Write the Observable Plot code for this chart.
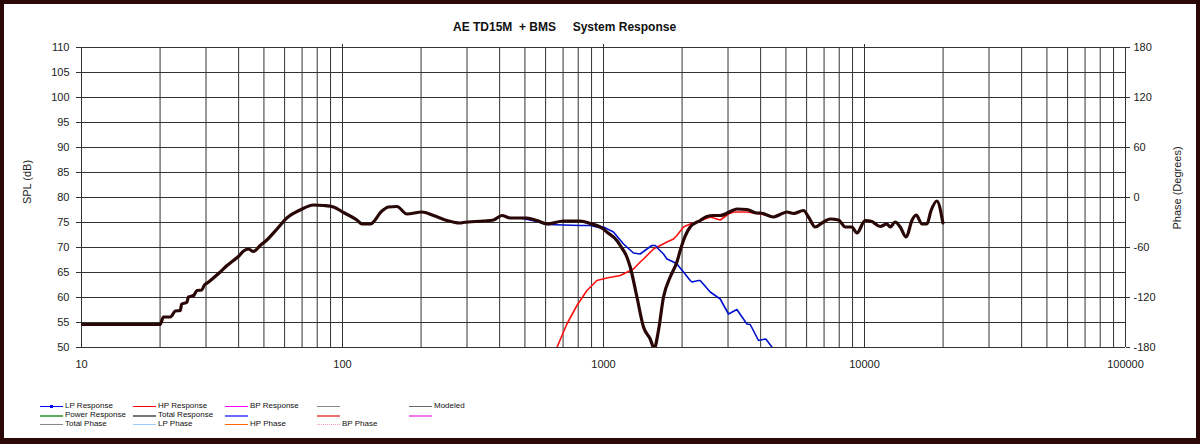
<!DOCTYPE html>
<html><head><meta charset="utf-8">
<script src="https://cdn.jsdelivr.net/npm/d3@7"></script>
<script src="https://cdn.jsdelivr.net/npm/@observablehq/plot@0.6"></script>
<style>
body{margin:0;background:#fff;font-family:"Liberation Sans",Arial,sans-serif;}
#wrap{position:relative;width:1200px;height:444px;overflow:hidden;background:#fff;}
#frame{position:absolute;left:0;top:0;width:1200px;height:444px;box-sizing:border-box;border:4px solid #2a0808;border-bottom-width:6px;pointer-events:none;}
#chart{position:absolute;left:0;top:0;}
.title{position:absolute;top:20px;left:453px;font-weight:bold;font-size:12px;white-space:pre;color:#111;}
.ylab{position:absolute;font-size:11px;color:#222;white-space:nowrap;transform:translate(-50%,-50%) rotate(-90deg);}
.leg{position:absolute;font-size:8px;color:#111;white-space:nowrap;line-height:8px;}
.sw{position:absolute;height:0;}
</style></head><body>
<div id="wrap">
  <div id="chart"></div>
  <div class="title">AE TD15M  + BMS     System Response</div>
  <div class="ylab" style="left:27px;top:182px;">SPL (dB)</div>
  <div class="ylab" style="left:1177px;top:188px;">Phase (Degrees)</div>
  <div id="legend"></div>
  <div id="frame"></div>
</div>
<script>
// ---- data ----
const totalFreq = [10,20,20.6,21.9,22.9,23.9,24.2,25.3,25.7,26.9,27.7,28.9,29.5,30.7,32.0,34.0,36.1,38.2,39.9,41.8,43.6,45.6,48.4,51.3,56.1,61.2,68.8,77.4,84.6,92.4,100.9,113.5,118.7,127.7,141.6,150.1,161.6,176.5,201.5,223.2,247.5,282.5,290,347,379,408,439,479.6,508.8,555.5,607,703,745,814,889,1000,1030,1125,1159,1229,1266,1343,1423,1510,1564,1624,1698,1801,1911,1968,2025,2149,2347,2490,2640,2800,3149,3244,3543,3870,3985,4481,4549,4895,5041,5346,5839,6101,6474,6868,7389,7952,8436,8949,9352,10063,10675,11486,12184,12545,13114,13702,14450,15192,15781,16596,17346,17968,18941,19971];
const totalSpl  = [54.6,54.6,56.1,56.1,57.3,57.4,58.7,59.0,60.1,60.4,61.4,61.5,62.4,63.1,63.9,65.1,66.4,67.4,68.2,69.3,69.7,69.2,70.4,71.5,73.7,75.9,77.5,78.5,78.4,78.1,77.0,75.5,74.7,74.7,77.3,78.1,78.2,76.7,77.1,76.4,75.5,74.9,75.0,75.3,75.5,76.4,75.9,75.9,75.9,75.4,74.7,75.3,75.3,75.3,74.8,73.7,73.1,71.4,70.4,68.1,66.1,60.1,54.1,51.7,49.8,53.4,60.1,64.1,67.1,69.4,71.4,74.1,75.4,76.2,76.4,76.4,77.5,77.7,77.6,76.9,76.9,76.1,76.2,76.9,77.1,76.8,77.4,76.1,74.1,74.9,75.7,75.5,74.1,74.1,72.9,75.4,75.2,74.2,74.7,74.1,75.1,74.1,72.1,75.4,76.5,74.7,74.7,77.3,79.3,74.9];

const lpFreq = [440,479.6,555.5,607,703,814,889,960,1000,1092,1193,1303,1382,1423,1532,1580,1624,1698,1750,1854,1911,2025,2149,2182,2312,2347,2564,2800,3013,3244,3543,3649,3926,4165,4202,4418,4520];
const lpSpl  = [75.9,75.9,75.2,74.6,74.5,74.4,74.4,74.0,74.1,73.1,70.7,68.9,68.7,69.2,70.4,70.4,69.7,68.7,67.7,67.1,66.7,65.1,63.4,63.1,63.4,63.4,61.1,59.7,56.7,57.6,54.7,54.6,51.4,51.7,51.6,50.1,49.5];

const hpFreq = [650,663,724,791,864,943,1030,1159,1303,1382,1423,1554,1649,1750,1854,1911,2025,2149,2280,2564,2800,3013,3149,3543,3985,4200];
const hpSpl  = [49.5,50.0,54.7,58.4,61.4,63.4,63.9,64.4,65.7,67.1,67.7,69.7,70.4,71.1,71.7,72.4,74.1,74.7,75.1,76.1,75.5,76.7,77.1,77.1,76.7,76.5];

const decadeTicks = [10,100,1000,10000,100000];
const splTicks = [50,55,60,65,70,75,80,85,90,95,100,105,110];
const phaseTicks = [-180,-120,-60,0,60,120,180];

const legendLabels = ["LP Response","HP Response","BP Response","","Modeled",
                      "Power Response","Total Response","","","",
                      "Total Phase","LP Phase","HP Phase","BP Phase"];
const legendColors = ["#0000ff","#ff0000","#ff00ff","#888888","#666666",
                      "#60b060","#777777","#6a6aff","#ee7070","#ee77ee",
                      "#888888","#99ccff","#ff6600","#ff99cc"];
const legendWidths = [1.5,1.5,1.5,1,1, 2,2,2,2,2, 1,1,1.5,1];
const legendStyles = ["solid","solid","solid","solid","solid","solid","solid","solid","solid","solid","solid","solid","solid","dotted"];

// ---- build tables ----
const total = totalFreq.map((f,i)=>({f, v: totalSpl[i]}));
const lp = lpFreq.map((f,i)=>({f, v: lpSpl[i]}));
const hp = hpFreq.map((f,i)=>({f, v: hpSpl[i]}));
const gridFreqs = decadeTicks.slice(0,-1).flatMap(d => d3.range(1,10).map(k => k*d)).concat([100000]);
const phasePos = phaseTicks.map(p => 80 + p/6);

const chart = Plot.plot({
  width: 1200, height: 380,
  marginLeft: 81, marginRight: 75, marginTop: 47, marginBottom: 33,
  x: {type: "log", domain: [10, 100000], label: null},
  y: {domain: [50, 110], label: null},
  style: {fontFamily: "'Liberation Sans', Arial, sans-serif", fontSize: "11px", color: "#222", background: "transparent", overflow: "visible"},
  marks: [
    Plot.gridX(gridFreqs, {stroke: "#333", strokeOpacity: 1}),
    Plot.gridY(splTicks, {stroke: "#333", strokeOpacity: 1}),
    Plot.axisX(decadeTicks, {anchor: "bottom", label: null, tickSize: 0, tickPadding: 13, tickFormat: d => d3.format("d")(d)}),
    Plot.axisX(decadeTicks.slice(1,-1), {anchor: "top", label: null, tickSize: 4, tickFormat: () => "", stroke: "#333"}),
    Plot.axisY(splTicks, {anchor: "left", label: null, tickSize: 5, tickPadding: 7, stroke: "#333"}),
    Plot.axisY(phasePos, {anchor: "right", label: null, tickSize: 4, tickPadding: 4, stroke: "#333", tickFormat: (d, i) => String(phaseTicks[i])}),
    Plot.line(hp, {x: "f", y: "v", stroke: "#ff1010", strokeWidth: 1.6, clip: true}),
    Plot.line(lp, {x: "f", y: "v", stroke: "#0010cc", strokeWidth: 1.6, clip: true}),
    Plot.line(total, {x: "f", y: "v", stroke: "#2a0707", strokeWidth: 3.2, clip: true, strokeLinejoin: "round", curve: "monotone-x"})
  ]
});
document.getElementById("chart").appendChild(chart);

// ---- legend ----
const leg = document.getElementById("legend");
const colX = [40, 133, 225, 317, 409];
const rowY = [406.5, 415.5, 424.5];
legendLabels.forEach((lab, i) => {
  const r = Math.floor(i/5), c = i%5;
  const x = colX[c], y = rowY[r];
  const sw = document.createElement("div");
  sw.className = "sw";
  const w = legendWidths[i];
  sw.style.cssText = `left:${x}px;top:${y - w/2}px;width:23px;border-top:${w}px ${legendStyles[i]} ${legendColors[i]};`;
  leg.appendChild(sw);
  if (i === 0) {
    const m = document.createElement("div");
    m.style.cssText = `position:absolute;left:${x+10}px;top:${y-1.5}px;width:3px;height:3px;background:${legendColors[i]};`;
    leg.appendChild(m);
  }
  if (lab) {
    const t = document.createElement("div");
    t.className = "leg";
    t.textContent = lab;
    t.style.left = (x + 25) + "px";
    t.style.top = (y - 4.5) + "px";
    leg.appendChild(t);
  }
});
</script>
</body></html>
